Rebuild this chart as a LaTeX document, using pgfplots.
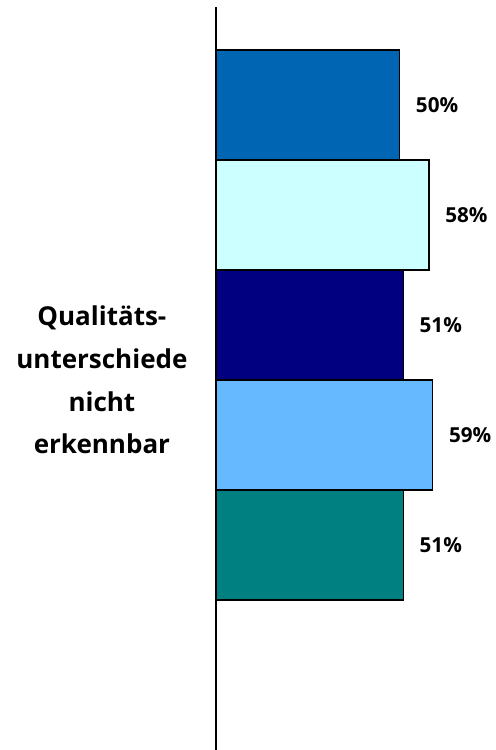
\documentclass[border=0pt]{standalone}
\usepackage{pgfplots}
\pgfplotsset{compat=1.18}
\usepackage{fontspec}
\setmainfont{Open Sans}

\definecolor{barA}{HTML}{0066B3}
\definecolor{barB}{HTML}{CCFFFF}
\definecolor{barC}{HTML}{000080}
\definecolor{barD}{HTML}{66B8FF}
\definecolor{barE}{HTML}{008080}

\begin{document}
\begin{tikzpicture}[x=1pt,y=1pt]
\begin{axis}[
    scale only axis,
    width=209.25pt, height=562.5pt,
    xmin=0, xmax=76, ymin=0, ymax=750,
    y dir=reverse,
    hide axis,
    clip=false,
    xbar, bar shift=0pt, bar width=110,
    point meta=x,
    /pgf/number format/assume math mode=true,
    nodes near coords={\pgfmathprintnumber{\pgfplotspointmeta}\%},
    every node near coord/.append style={font=\fontsize{15.5}{18}\selectfont\bfseries, black, xshift=8.5pt},
]
\addplot[fill=barA, draw=black, line width=0.9pt] coordinates {(50,105)};
\addplot[fill=barB, draw=black, line width=0.9pt] coordinates {(58,215)};
\addplot[fill=barC, draw=black, line width=0.9pt] coordinates {(51,325)};
\addplot[fill=barD, draw=black, line width=0.9pt] coordinates {(59,435)};
\addplot[fill=barE, draw=black, line width=0.9pt] coordinates {(51,545)};
\draw[black, line width=1.1pt] (axis cs:0,7) -- (axis cs:0,750);
\node[align=center, font=\fontsize{19.5}{32}\selectfont\bfseries, anchor=center]
    at (axis cs:-31.1,380) {Qualitäts-\\unterschiede\\nicht\\erkennbar};
\coordinate (tl) at (axis cs:-58.86,0);
\coordinate (br) at (axis cs:76,750);
\end{axis}
\pgfresetboundingbox
\path (tl) rectangle (br);
\end{tikzpicture}
\end{document}
